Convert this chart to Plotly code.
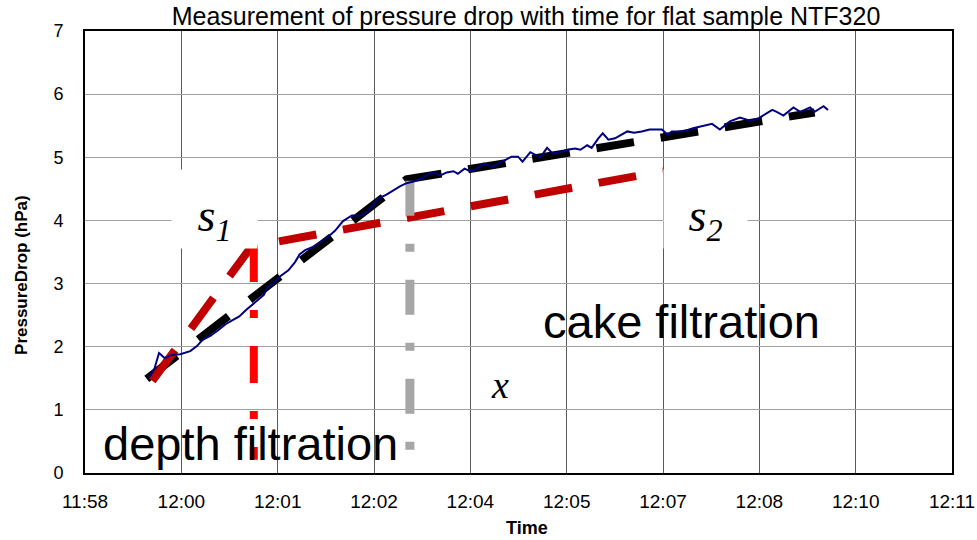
import plotly.graph_objects as go
from datetime import datetime, timedelta

DAY = "2000-01-01 "

# ---- data ----
meas_time = ["11:59:31", "11:59:36", "11:59:40", "11:59:45", "11:59:51", "11:59:59", "12:00:08", "12:00:14",
             "12:00:19", "12:00:26", "12:00:33", "12:00:40", "12:00:46", "12:00:52", "12:00:58", "12:01:03",
             "12:01:09", "12:01:14", "12:01:17", "12:01:23", "12:01:29", "12:01:36", "12:01:42", "12:01:46",
             "12:01:51", "12:01:58", "12:02:04", "12:02:11", "12:02:18", "12:02:25", "12:02:33", "12:02:41",
             "12:02:47", "12:02:52", "12:02:57", "12:03:04", "12:03:10", "12:03:16", "12:03:22", "12:03:29",
             "12:03:35", "12:03:41", "12:03:47", "12:03:52", "12:03:58", "12:04:04", "12:04:08", "12:04:14",
             "12:04:19", "12:04:24", "12:04:31", "12:04:39", "12:04:48", "12:04:56", "12:05:02", "12:05:06",
             "12:05:13", "12:05:18", "12:05:22", "12:05:28", "12:05:33", "12:05:40", "12:05:46", "12:05:53",
             "12:05:58", "12:06:04", "12:06:08", "12:06:14", "12:06:18", "12:06:23", "12:06:29", "12:06:40",
             "12:06:46", "12:06:53", "12:07:00", "12:07:11", "12:07:16", "12:07:20", "12:07:30", "12:07:39",
             "12:07:48", "12:07:56", "12:08:03", "12:08:12", "12:08:21", "12:08:30", "12:08:37", "12:08:44",
             "12:08:50", "12:08:54", "12:09:00", "12:09:09", "12:09:15", "12:09:24", "12:09:28", "12:09:36",
             "12:09:40"]
meas_pressure = [1.51, 1.66, 1.90, 1.82, 1.87, 1.88, 1.93, 2.01,
                 2.11, 2.17, 2.26, 2.36, 2.42, 2.48, 2.58, 2.66,
                 2.74, 2.82, 2.93, 3.01, 3.12, 3.21, 3.34, 3.46,
                 3.53, 3.58, 3.65, 3.73, 3.84, 3.99, 4.08, 4.08,
                 4.14, 4.25, 4.35, 4.41, 4.48, 4.54, 4.59, 4.62,
                 4.66, 4.73, 4.76, 4.71, 4.76, 4.78, 4.74, 4.82,
                 4.78, 4.81, 4.90, 4.85, 4.93, 5.01, 5.01, 4.93,
                 5.08, 5.03, 5.00, 5.15, 5.06, 5.08, 5.12, 5.14,
                 5.12, 5.19, 5.15, 5.30, 5.38, 5.28, 5.30, 5.41,
                 5.39, 5.41, 5.44, 5.44, 5.36, 5.41, 5.41, 5.46,
                 5.50, 5.53, 5.44, 5.57, 5.63, 5.58, 5.61, 5.69,
                 5.75, 5.72, 5.66, 5.79, 5.72, 5.79, 5.72, 5.81,
                 5.75]

fit_time = ["11:59:29", "12:03:22", "12:09:28"]          # black dashed two-slope fit
fit_pressure = [1.49, 4.65, 5.71]
depth_time = ["11:59:34", "12:01:03", "12:07:12"]        # dark red dashed
depth_pressure = [1.46, 3.59, 4.78]
mark1_time = ["12:01:05", "12:01:05"]                    # red vertical marker
mark1_pressure = [3.61, 0.21]
mark2_time = ["12:03:25", "12:03:25"]                    # grey vertical marker
mark2_pressure = [4.63, 0.29]

axis_start = "11:58:33.6"
tick_step_seconds = 86.4
tick_labels = ["11:58", "12:00", "12:01", "12:02", "12:04", "12:05", "12:07", "12:08", "12:10", "12:11"]
y_ticks = [0, 1, 2, 3, 4, 5, 6, 7]

# ---- helpers ----
def ts(lst):
    return [DAY + t for t in lst]

t0 = datetime.strptime(DAY + axis_start, "%Y-%m-%d %H:%M:%S.%f")
tickvals = [(t0 + timedelta(seconds=tick_step_seconds * k)).strftime("%Y-%m-%d %H:%M:%S.%f")
            for k in range(len(tick_labels))]
x_range = [tickvals[0], tickvals[-1]]

SANS = "Liberation Sans, Arial, sans-serif"
SERIF = "Liberation Serif, Times New Roman, serif"

fig = go.Figure()
fig.add_trace(go.Scatter(x=ts(fit_time), y=fit_pressure, mode="lines",
                         line=dict(color="#000000", width=8, dash="38px,27px"), showlegend=False))
fig.add_trace(go.Scatter(x=ts(depth_time), y=depth_pressure, mode="lines",
                         line=dict(color="#C00000", width=8, dash="38px,27px"), showlegend=False))
fig.add_trace(go.Scatter(x=ts(mark1_time), y=mark1_pressure, mode="lines",
                         line=dict(color="#FF0000", width=8, dash="37px,28px,8px,28px"), showlegend=False))
fig.add_trace(go.Scatter(x=ts(mark2_time), y=mark2_pressure, mode="lines",
                         line=dict(color="#A6A6A6", width=9, dash="35px,28px,8px,28px"), showlegend=False))
fig.add_trace(go.Scatter(x=ts(meas_time), y=meas_pressure, mode="lines",
                         line=dict(color="#000080", width=2), showlegend=False))

annotations = [
    dict(x=DAY + "12:00:30", y=4.18, text="<i>s<sub>1</sub></i>", showarrow=False,
         font=dict(family=SERIF, size=46, color="black"), bgcolor="white", width=85, height=78,
         align="center", valign="bottom", borderpad=0),
    dict(x=DAY + "12:07:50", y=4.18, text="<i>s<sub>2</sub></i>", showarrow=False,
         font=dict(family=SERIF, size=46, color="black"), bgcolor="white", width=83, height=78,
         align="center", valign="bottom", borderpad=0),
    dict(x=DAY + "12:04:46", y=1.40, text="<i>x</i>", showarrow=False,
         font=dict(family=SERIF, size=38, color="black")),
    dict(x=DAY + "12:07:29", y=2.40, text="cake filtration", showarrow=False,
         font=dict(family=SANS, size=47, color="black")),
    dict(x=DAY + "12:01:02", y=0.46, text="depth filtration", showarrow=False,
         font=dict(family=SANS, size=47, color="black")),
    dict(xref="paper", yref="paper", x=-0.0727, y=0.448, xanchor="center", yanchor="middle",
         text="<b>PressureDrop (hPa)</b>", textangle=-90, showarrow=False,
         font=dict(family=SANS, size=17, color="black")),
    dict(xref="paper", yref="paper", x=0.51, y=-0.1245, xanchor="center", yanchor="middle",
         text="<b>Time</b>", showarrow=False, font=dict(family=SANS, size=18, color="black")),
]

fig.update_layout(
    width=977, height=540,
    margin=dict(l=85, r=25, t=31, b=67, autoexpand=False),
    paper_bgcolor="white", plot_bgcolor="white",
    title=dict(text="Measurement of pressure drop with time for flat sample NTF320",
               x=526 / 977, xref="container", xanchor="center",
               y=1 - 16 / 540, yref="container", yanchor="middle",
               font=dict(family=SANS, size=25, color="black")),
    annotations=annotations,
    showlegend=False,
)
fig.update_xaxes(type="date", range=x_range, tickvals=tickvals, ticktext=tick_labels, automargin=False,
                 showgrid=True, gridcolor="#5a5a5a", gridwidth=1,
                 showline=True, linecolor="black", linewidth=2, mirror=True,
                 ticks="outside", ticklen=10, tickcolor="rgba(0,0,0,0)",
                 tickfont=dict(family=SANS, size=19, color="black"), zeroline=False)
fig.update_yaxes(range=[0, 7], tickvals=y_ticks, automargin=False,
                 showgrid=True, gridcolor="#a0a0a0", gridwidth=1,
                 showline=True, linecolor="black", linewidth=2, mirror=True,
                 ticks="outside", ticklen=16, tickcolor="rgba(0,0,0,0)",
                 tickfont=dict(family=SANS, size=18, color="black"), zeroline=False)

fig.write_html("out.html", config={"displayModeBar": False},
               post_script="document.body.style.margin='0px';")
